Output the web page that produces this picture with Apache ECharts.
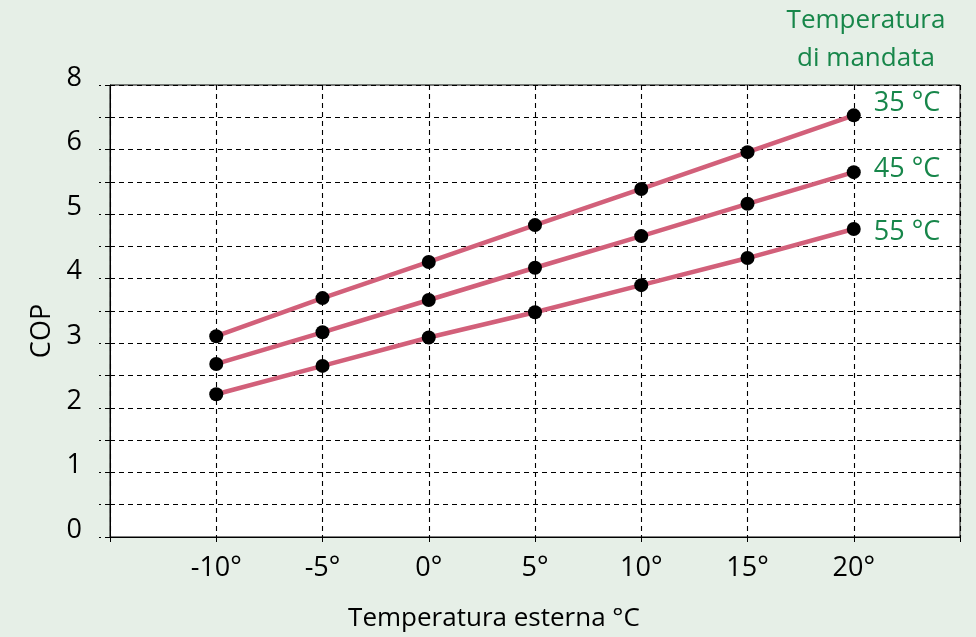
<!DOCTYPE html>
<html>
<head>
<meta charset="utf-8">
<script src="https://cdn.jsdelivr.net/npm/echarts@6/dist/echarts.min.js"></script>
<style>
  html, body { margin: 0; padding: 0; background: #e6efe7; }
  #chart { width: 976px; height: 637px; }
</style>
</head>
<body>
<div id="chart"></div>
<script>
'use strict';
// temperature esterna (°C)
var temps = [-10, -5, 0, 5, 10, 15, 20];
// COP per temperatura di mandata
var cop35 = [3.11, 3.70, 4.26, 4.83, 5.39, 5.96, 6.53];
var cop45 = [2.68, 3.17, 3.67, 4.17, 4.66, 5.16, 5.65];
var cop55 = [2.21, 2.65, 3.09, 3.48, 3.90, 4.32, 4.77];
var seriesNames = ['35 °C', '45 °C', '55 °C'];
// etichette asse Y come nel disegno (in cima c'è "8")
var yTickLabels = { 0: '0', 1: '1', 2: '2', 3: '3', 4: '4', 5: '5', 6: '6', 7: '8' };

var font = '"Open Sans", sans-serif';
var green = '#17864a';
var pink = '#d2607a';
var dash = [5, 4];

function pairs(vals) {
	return temps.map(function (t, i) { return [t, vals[i]]; });
}

function line(name, vals, dy) {
	return {
		name: name,
		type: 'line',
		data: pairs(vals),
		symbol: 'circle',
		symbolSize: 14,
		itemStyle: { color: '#000' },
		lineStyle: { color: pink, width: 4.5 },
		z: 3,
		endLabel: {
			show: true,
			formatter: name,
			color: green,
			fontFamily: font,
			fontSize: 27,
			offset: [12, dy]
		},
		emphasis: { disabled: true }
	};
}

var chart = echarts.init(document.getElementById('chart'));
chart.setOption({
	animation: false,
	backgroundColor: '#e6efe7',
	title: {
		text: 'Temperatura\ndi mandata',
		left: 861,
		top: -3,
		textAlign: 'center',
		textStyle: {
			color: green,
			fontFamily: font,
			fontWeight: 'normal',
			fontSize: 26,
			lineHeight: 38,
			align: 'center'
		}
	},
	grid: {
		left: 110,
		top: 85,
		right: 16,
		bottom: 100,
		show: true,
		backgroundColor: '#fff',
		borderColor: '#000',
		borderWidth: 1
	},
	xAxis: {
		type: 'value',
		min: -15,
		max: 25,
		interval: 5,
		name: 'Temperatura esterna °C',
		nameLocation: 'middle',
		nameGap: 69,
		nameTextStyle: {
			color: '#000',
			fontFamily: font,
			fontSize: 26,
			padding: [0, 82, 0, 0]
		},
		axisLine: { onZero: false, lineStyle: { color: '#000', width: 1 } },
		axisTick: { show: true, length: 8, lineStyle: { color: '#000', type: dash } },
		axisLabel: {
			color: '#000',
			fontFamily: font,
			fontSize: 27,
			margin: 18,
			formatter: function (v) {
				return (v === -15 || v === 25) ? '' : v + '°';
			}
		},
		splitLine: { show: true, lineStyle: { color: '#000', type: dash, width: 1.1 } }
	},
	yAxis: {
		type: 'value',
		min: 0,
		max: 7,
		interval: 0.5,
		name: 'COP',
		nameLocation: 'middle',
		nameGap: 54,
		nameTextStyle: {
			color: '#000',
			fontFamily: font,
			fontSize: 27,
			padding: [0, 40, 0, 0]
		},
		axisLine: { show: true, onZero: false, lineStyle: { color: '#000', width: 1 } },
		axisTick: { show: true, length: 11, lineStyle: { color: '#000', type: dash } },
		axisLabel: {
			color: '#000',
			fontFamily: font,
			fontSize: 27,
			margin: 28,
			lineHeight: 14,
			verticalAlign: 'bottom',
			formatter: function (v) {
				return yTickLabels[v] !== undefined ? yTickLabels[v] : '';
			}
		},
		splitLine: { show: true, lineStyle: { color: '#000', type: dash, width: 1.1 } }
	},
	series: [
		line(seriesNames[0], cop35, -12),
		line(seriesNames[1], cop45, -3),
		line(seriesNames[2], cop55, 3)
	]
});
</script>
</body>
</html>
